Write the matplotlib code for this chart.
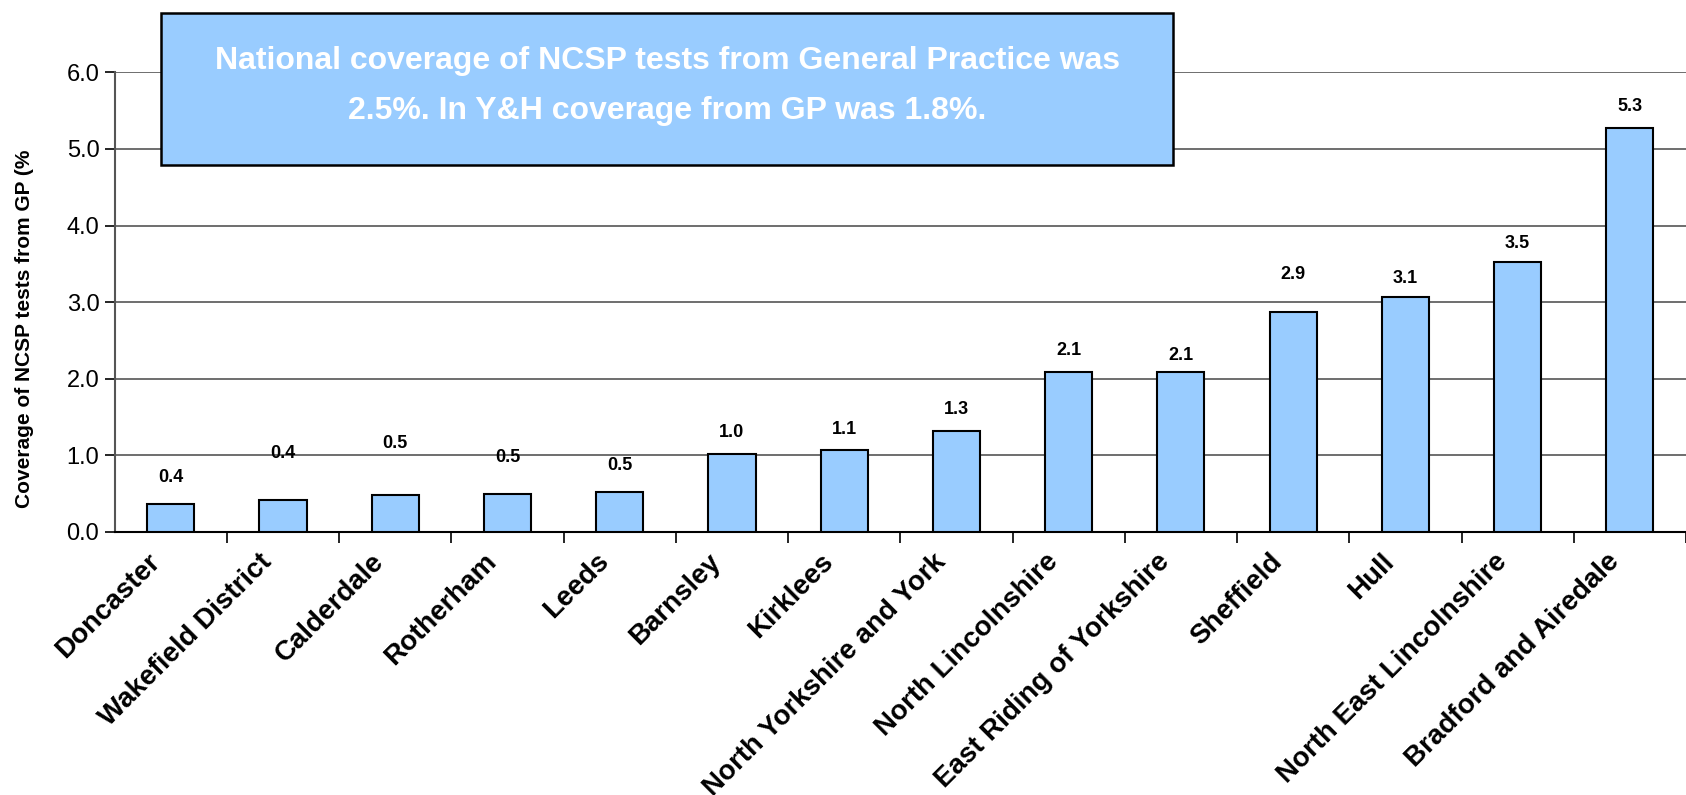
import numpy as np
import matplotlib
matplotlib.use("Agg")
import matplotlib.pyplot as plt
import matplotlib.transforms as mtransforms

plt.rcParams['font.family'] = ['Liberation Sans', 'DejaVu Sans']

# Coverage of NCSP tests from GP (%) by PCT, Yorkshire and the Humber
areas = ["Doncaster", "Wakefield District", "Calderdale", "Rotherham", "Leeds",
         "Barnsley", "Kirklees", "North Yorkshire and York", "North Lincolnshire",
         "East Riding of Yorkshire", "Sheffield", "Hull", "North East Lincolnshire",
         "Bradford and Airedale"]
coverage = [0.36, 0.42, 0.48, 0.50, 0.52, 1.02, 1.07, 1.32, 2.09, 2.09,
            2.87, 3.07, 3.53, 5.27]
labels = ["0.4", "0.4", "0.5", "0.5", "0.5", "1.0", "1.1", "1.3", "2.1", "2.1",
          "2.9", "3.1", "3.5", "5.3"]
# where each data label sits (the source places them irregularly)
label_y = [0.71, 1.02, 1.16, 0.97, 0.86, 1.30, 1.33, 1.60, 2.37, 2.30,
           3.36, 3.31, 3.77, 5.55]

yticks = [0.0, 1.0, 2.0, 3.0, 4.0, 5.0, 6.0]
note = ("National coverage of NCSP tests from General Practice was\n"
        "2.5%. In Y&H coverage from GP was 1.8%.")

fig = plt.figure(figsize=(16.86, 7.95), dpi=100)
ax = fig.add_axes([0.068, 0.331, 0.932, 0.578])

x = np.arange(len(areas))
ax.bar(x, coverage, width=0.42, color="#99CCFF", edgecolor="black",
       linewidth=1.5, zorder=3)

for xi, ly, lab in zip(x, label_y, labels):
    ax.text(xi, ly, lab, ha="center", va="center", fontsize=13,
            fontweight="bold", zorder=4)

ax.set_ylim(0, 6.0)
ax.set_xlim(-0.5, 13.3)
ax.set_yticks(yticks)
ax.set_yticklabels(["%.1f" % t for t in yticks], fontsize=17)
ax.yaxis.grid(True, color="#555555", linewidth=1.2, zorder=0)
ax.set_axisbelow(True)

# category ticks sit between bars
ax.set_xticks(x)
ax.set_xticklabels(areas, rotation=45, ha="right", rotation_mode="anchor",
                   fontsize=20, fontweight="bold")
ax.tick_params(axis="x", which="major", length=0, pad=12)
shift = mtransforms.ScaledTranslation(-0.24, 0, fig.dpi_scale_trans)
for t in ax.get_xticklabels():
    t.set_transform(t.get_transform() + shift)
ax.set_xticks(np.arange(len(areas)) + 0.5, minor=True)
ax.tick_params(axis="x", which="minor", length=8, width=1.2, direction="out")
ax.tick_params(axis="y", length=7, width=1.2, direction="out", pad=4)

for side in ["top", "right"]:
    ax.spines[side].set_visible(False)
ax.spines["left"].set_color("#555555")
ax.spines["left"].set_linewidth(1.5)
ax.spines["bottom"].set_linewidth(1.5)

# y label is clipped in the source ("(%" without the closing bracket)
fig.text(0.0147, 0.587, "Coverage of NCSP tests from GP (%", rotation=90,
         ha="center", va="center", fontsize=15, fontweight="bold")

box = plt.Rectangle((0.0955, 0.793), 0.6005, 0.191, transform=fig.transFigure,
                    facecolor="#99CCFF", edgecolor="black", linewidth=1.8,
                    zorder=5)
fig.patches.append(box)
fig.text(0.396, 0.892, note, ha="center", va="center", color="white",
         fontsize=23, fontweight="bold", linespacing=1.9,
         multialignment="center", zorder=6)

fig.savefig("out.png", dpi=100)
